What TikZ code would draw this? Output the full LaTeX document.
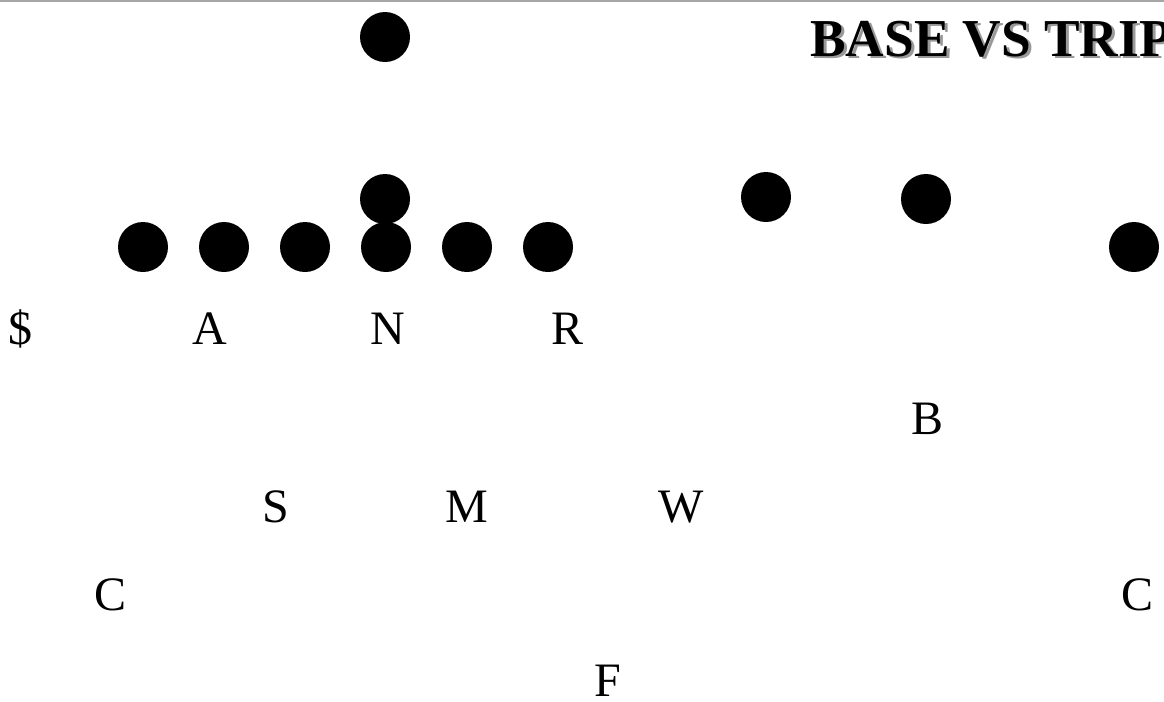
\documentclass[tikz,border=0pt]{standalone}
\usepackage{fontspec}
\setmainfont{Liberation Serif}
\usetikzlibrary{positioning}

\begin{document}
\begin{tikzpicture}[x=0.75pt,y=-0.75pt,node distance=60.75pt]
    \tikzstyle{player}=[circle, fill, inner sep=0pt, minimum size=37.5pt]
    \tikzstyle{defender}=[font=\fontsize{36}{40}\selectfont, inner sep=0pt, anchor=base]
    \tikzstyle{title}=[font=\fontsize{40}{45}\selectfont\bfseries, inner sep=0pt, anchor=base west]

    \useasboundingbox (0,0) rectangle (1164,701);
    \clip (0,0) rectangle (1164,701);
    \draw[black!35, line width=1.5pt] (0,0.5) -- (1164,0.5);

    % title with its shadow
    \node[title, text=black!40] (shadow) at (813,58) {BASE VS TRIP};
    \node[title] (title) at (810,56) {BASE VS TRIP};

    % offense
    \node[player] (lt) at (143,247) {};
    \node[player] (lg) [right of=lt] {};
    \node[player] (lc) [right of=lg] {};
    \node[player] (c)  [right of=lc] {};
    \node[player] (rg) [right of=c] {};
    \node[player] (rt) [right of=rg] {};
    \node[player] (qb) at (385,199) {};
    \node[player] (rb) at (385,37) {};
    \node[player] (wr1) at (766,197) {};
    \node[player] (wr2) at (926,199) {};
    \node[player] (wr3) at (1134,247) {};

    % defense
    \node[defender] (dollar) at (20,344) {\$};
    \node[defender] (a) at (210,344) {A};
    \node[defender] (n) at (388,344) {N};
    \node[defender] (r) at (568,344) {R};
    \node[defender] (b) at (927,434) {B};
    \node[defender] (s) at (276,522) {S};
    \node[defender] (m) at (467,522) {M};
    \node[defender] (w) at (681,522) {W};
    \node[defender] (cl) at (111,610) {C};
    \node[defender] (cr) at (1137,610) {C};
    \node[defender] (f) at (608,696) {F};
\end{tikzpicture}
\end{document}
